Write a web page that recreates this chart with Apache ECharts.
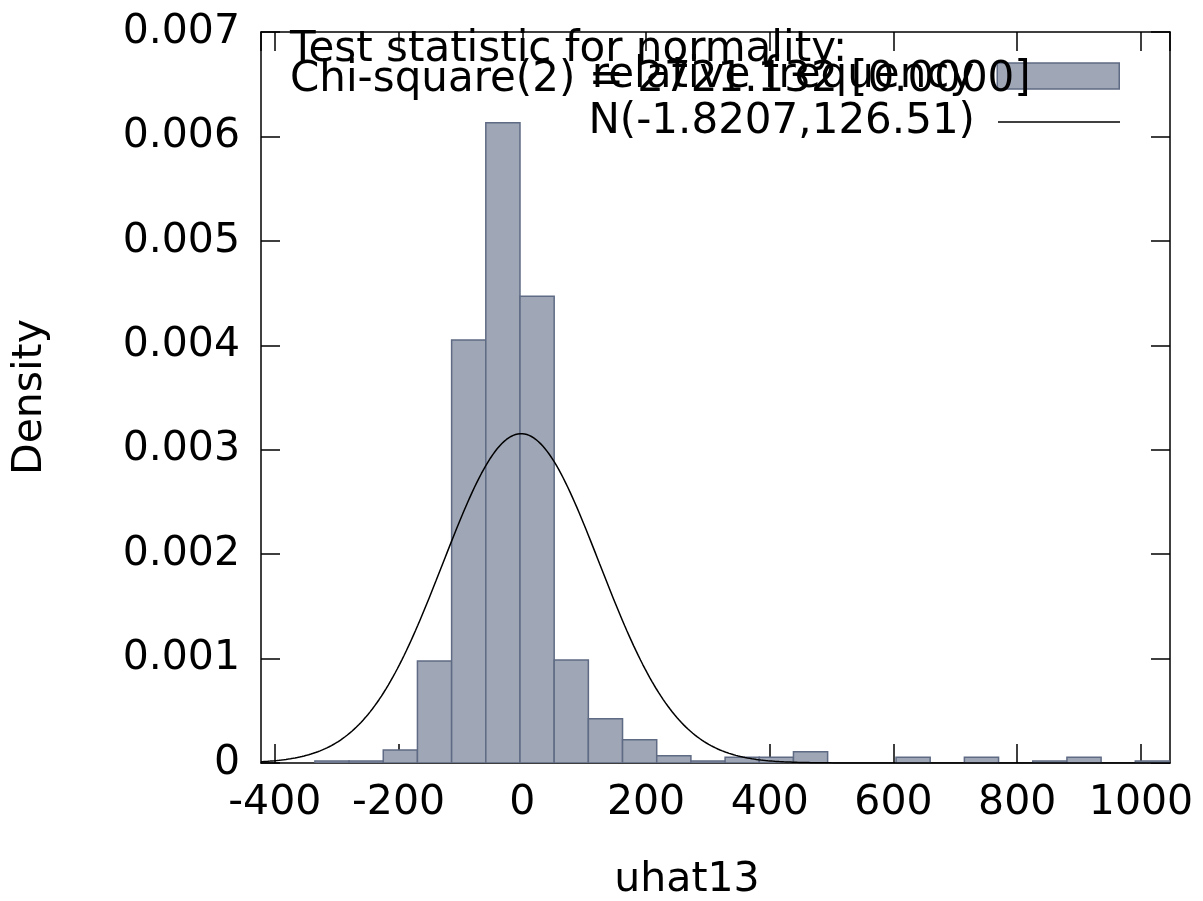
<!DOCTYPE html>
<html>
<head>
<meta charset="utf-8">
<title>uhat13 frequency distribution</title>
<script src="https://cdn.jsdelivr.net/npm/echarts@6/dist/echarts.min.js"></script>
<style>
  html, body { margin: 0; padding: 0; background: #ffffff; }
  #chart { width: 1203px; height: 901px; }
</style>
</head>
<body>
<div id="chart"></div>
<script>
// Histogram of residuals uhat13 (relative frequency as density) with fitted normal curve.
const BIN_START = -335.2;   // lower edge of the first bin
const BIN_WIDTH = 55.25;    // common bin width
const densities = [
  0.000019, 0.000019, 0.000124, 0.000977, 0.00405, 0.00613, 0.00447,
  0.000986, 0.000424, 0.000223, 0.00007, 0.000019, 0.0000546, 0.0000546,
  0.000108, 0, 0, 0.0000546, 0, 0.0000546, 0, 0.000019, 0.0000546, 0, 0.000019
];

// Fitted normal distribution N(mean, sd)
const NORMAL_MEAN = -1.8207;
const NORMAL_SD = 126.51;

// Normality test annotation
const testTitle = 'Test statistic for normality:';
const testLine = 'Chi-square(2) = 2721.132 [0.0000]';

const xLabel = 'uhat13';
const yLabel = 'Density';
const barName = 'relative frequency';
const curveName = 'N(' + NORMAL_MEAN + ',' + NORMAL_SD + ')';

const X_MIN = -422.3, X_MAX = 1046.9;
const Y_MIN = 0, Y_MAX = 0.007, Y_STEP = 0.001;

const FONT = 'DejaVu Sans';
const FS = 41;      // tick labels, axis titles
const FS_KEY = 42;  // annotation and key text

// bins as [lower, upper, density]
const bins = densities
  .map((d, i) => [BIN_START + i * BIN_WIDTH, BIN_START + (i + 1) * BIN_WIDTH, d])
  .filter(b => b[2] > 0);

// normal density sampled along the x range
const curve = [];
const steps = 400;
for (let i = 0; i <= steps; i++) {
  const x = X_MIN + (X_MAX - X_MIN) * i / steps;
  const z = (x - NORMAL_MEAN) / NORMAL_SD;
  curve.push([x, Math.exp(-0.5 * z * z) / (NORMAL_SD * Math.sqrt(2 * Math.PI))]);
}

const chart = echarts.init(document.getElementById('chart'), null, { renderer: 'canvas' });

const axisLineStyle = { color: '#000000', width: 1.5 };
const tickCommon = { show: true, inside: true, length: 19, lineStyle: { color: '#000000', width: 1.5 } };

chart.setOption({
  animation: false,
  backgroundColor: '#ffffff',
  textStyle: { fontFamily: FONT },
  grid: { left: 261, right: 33, top: 32, bottom: 138, containLabel: false },
  xAxis: [
    {
      type: 'value', position: 'bottom', min: X_MIN, max: X_MAX,
      minInterval: 200, maxInterval: 200, splitNumber: 7,
      axisLine: { show: true, onZero: false, lineStyle: axisLineStyle },
      axisTick: tickCommon,
      splitLine: { show: false },
      axisLabel: {
        show: true, margin: 20, color: '#000000', fontSize: FS, fontFamily: FONT,
        showMinLabel: false, showMaxLabel: false,
        formatter: v => String(Math.round(v))
      }
    },
    {
      type: 'value', position: 'top', min: X_MIN, max: X_MAX,
      minInterval: 200, maxInterval: 200, splitNumber: 7,
      axisLine: { show: true, onZero: false, lineStyle: axisLineStyle },
      axisTick: tickCommon,
      splitLine: { show: false },
      axisLabel: { show: false }
    }
  ],
  yAxis: [
    {
      type: 'value', position: 'left', min: Y_MIN, max: Y_MAX, interval: Y_STEP,
      axisLine: { show: true, onZero: false, lineStyle: axisLineStyle },
      axisTick: tickCommon,
      splitLine: { show: false },
      axisLabel: { margin: 21, color: '#000000', fontSize: FS, fontFamily: FONT }
    },
    {
      type: 'value', position: 'right', min: Y_MIN, max: Y_MAX, interval: Y_STEP,
      axisLine: { show: true, onZero: false, lineStyle: axisLineStyle },
      axisTick: tickCommon,
      splitLine: { show: false },
      axisLabel: { show: false }
    }
  ],
  legend: [
    {
      data: [{ name: barName, icon: 'rect' }],
      orient: 'vertical', align: 'right', right: 83, top: 55, padding: 0,
      itemWidth: 122, itemHeight: 26, selectedMode: false,
      itemStyle: { color: '#9fa6b5', borderColor: '#5f6b84', borderWidth: 1.5 },
      textStyle: { color: '#000000', fontSize: FS_KEY, fontFamily: FONT, padding: [0, 18, 0, 0] }
    },
    {
      data: [{ name: curveName, icon: 'rect' }],
      orient: 'vertical', align: 'right', right: 83, top: 101, padding: 0,
      itemWidth: 122, itemHeight: 1.5, selectedMode: false,
      itemStyle: { color: '#000000', borderWidth: 0 },
      textStyle: { color: '#000000', fontSize: FS_KEY, fontFamily: FONT, padding: [0, 18, 0, 0] }
    }
  ],
  series: [
    {
      name: barName,
      type: 'custom',
      xAxisIndex: 0, yAxisIndex: 0,
      clip: true,
      data: bins,
      encode: { x: [0, 1], y: 2 },
      itemStyle: { color: '#9fa6b5', borderColor: '#5f6b84', borderWidth: 1.5 },
      renderItem: function (params, api) {
        const p0 = api.coord([api.value(0), api.value(2)]);
        const p1 = api.coord([api.value(1), 0]);
        return {
          type: 'rect',
          shape: { x: p0[0], y: p0[1], width: p1[0] - p0[0], height: p1[1] - p0[1] },
          style: { fill: '#9fa6b5', stroke: '#5f6b84', lineWidth: 1.5 }
        };
      },
      z: 2
    },
    {
      name: curveName,
      type: 'line',
      xAxisIndex: 0, yAxisIndex: 0,
      data: curve,
      symbol: 'none',
      showSymbol: false,
      clip: true,
      lineStyle: { color: '#000000', width: 1.5 },
      itemStyle: { color: '#000000' },
      z: 3
    }
  ],
  graphic: [
    {
      type: 'text', x: 290, y: 50,
      style: { text: testTitle, fill: '#000000', font: FS_KEY + 'px "' + FONT + '"', align: 'left', verticalAlign: 'middle' },
      z: 10
    },
    {
      type: 'text', x: 290, y: 80,
      style: { text: testLine, fill: '#000000', font: FS_KEY + 'px "' + FONT + '"', align: 'left', verticalAlign: 'middle' },
      z: 10
    },
    {
      type: 'text', x: 687, y: 880,
      style: { text: xLabel, fill: '#000000', font: FS + 'px "' + FONT + '"', align: 'center', verticalAlign: 'middle' },
      z: 10
    },
    {
      type: 'text', x: 30, y: 397, rotation: Math.PI / 2,
      style: { text: yLabel, fill: '#000000', font: FS + 'px "' + FONT + '"', align: 'center', verticalAlign: 'middle' },
      z: 10
    }
  ]
});
</script>
</body>
</html>
